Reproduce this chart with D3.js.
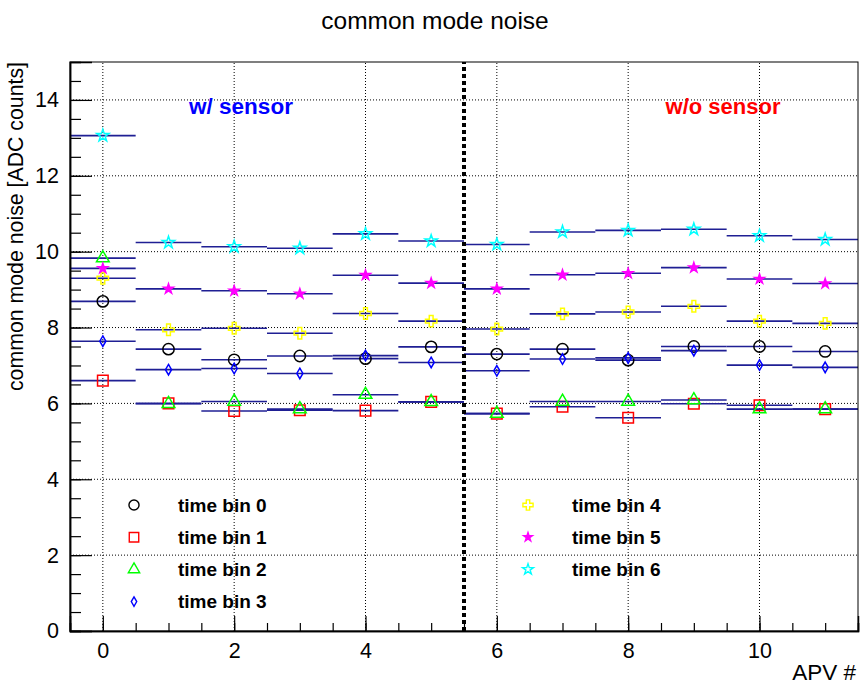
<!DOCTYPE html>
<html>
<head>
<meta charset="utf-8">
<script src="https://cdn.jsdelivr.net/npm/d3@7"></script>
<style>
    body { margin: 0; background: #fff; }
    text { font-family: "Liberation Sans", Arial, Helvetica, sans-serif; }
</style>
</head>
<body>
<svg id="chart" width="866" height="685"></svg>
<script>
// values, one array per time bin (index = APV #)
const apv = [0, 1, 2, 3, 4, 5, 6, 7, 8, 9, 10, 11]
const timeBins = ["time bin 0", "time bin 1", "time bin 2", "time bin 3", "time bin 4", "time bin 5", "time bin 6"]
const bin0 = [8.69, 7.43, 7.15, 7.25, 7.18, 7.49, 7.30, 7.43, 7.14, 7.50, 7.50, 7.37]
const bin1 = [6.60, 6.00, 5.80, 5.82, 5.81, 6.04, 5.73, 5.91, 5.62, 5.99, 5.95, 5.85]
const bin2 = [9.83, 5.99, 6.05, 5.85, 6.23, 6.04, 5.73, 6.05, 6.05, 6.09, 5.85, 5.85]
const bin3 = [7.64, 6.89, 6.92, 6.79, 7.26, 7.08, 6.86, 7.17, 7.20, 7.39, 7.01, 6.95]
const bin4 = [9.30, 7.94, 7.98, 7.85, 8.37, 8.17, 7.96, 8.36, 8.41, 8.56, 8.17, 8.11]
const bin5 = [9.56, 9.02, 8.97, 8.89, 9.38, 9.17, 9.02, 9.39, 9.43, 9.58, 9.28, 9.16]
const bin6 = [13.06, 10.24, 10.13, 10.09, 10.47, 10.28, 10.19, 10.52, 10.56, 10.59, 10.42, 10.32]
const xTicks = [0, 2, 4, 6, 8, 10]
const xMinorTicks = [-0.5, 0, 0.5, 1, 1.5, 2, 2.5, 3, 3.5, 4, 4.5, 5, 5.5, 6, 6.5, 7, 7.5, 8, 8.5, 9, 9.5, 10, 10.5, 11, 11.5]
const yTicks = [0, 2, 4, 6, 8, 10, 12, 14]
const yMinorTicks = [0, 0.5, 1, 1.5, 2, 2.5, 3, 3.5, 4, 4.5, 5, 5.5, 6, 6.5, 7, 7.5, 8, 8.5, 9, 9.5, 10, 10.5, 11, 11.5, 12, 12.5, 13, 13.5, 14, 14.5]
const regionSplit = 5.5
const regionLabels = ["w/ sensor", "w/o sensor"]

// styles
const markerColors = ["#000000", "#ff0000", "#00ff00", "#0000ff", "#ffff00", "#ff00ff", "#00ffff"]
const markerShapes = [d3.symbolCircle, d3.symbolSquare, d3.symbolTriangle, d3.symbolDiamond, d3.symbolCross, d3.symbolStar, d3.symbolStar]
const markerSizes = [100, 112, 70, 32, 72, 30, 46]
const markerFilled = [false, false, false, false, false, true, false]
const HIST_LINE = "#1f1f94"

const width = 866,
    height = 685,
    margin = {top: 62, right: 8, bottom: 54, left: 70}

const series = timeBins.map((name, i) => ({
    name: name,
    values: [bin0, bin1, bin2, bin3, bin4, bin5, bin6][i],
    color: markerColors[i],
    shape: markerShapes[i],
    size: markerSizes[i],
    filled: markerFilled[i]
}))

const svg = d3.select("#chart")

const x = d3.scaleLinear().domain([-0.5, 11.5]).range([margin.left, width - margin.right])
const y = d3.scaleLinear().domain([0, 15]).range([height - margin.bottom, margin.top])

// grid
let grid = svg.append("g")
grid.selectAll("line.vgrid")
    .data(xTicks)
    .join("line")
    .attr("x1", d => x(d)).attr("x2", d => x(d))
    .attr("y1", y(0)).attr("y2", y(15))
    .style("stroke", "#000")
    .style("stroke-width", 1)
    .style("stroke-dasharray", "1,2")
grid.selectAll("line.hgrid")
    .data(yTicks.filter(d => d > 0))
    .join("line")
    .attr("x1", x(-0.5)).attr("x2", x(11.5))
    .attr("y1", d => y(d)).attr("y2", d => y(d))
    .style("stroke", "#000")
    .style("stroke-width", 1)
    .style("stroke-dasharray", "1,2")

// histograms: bin line + marker
let hist = svg.append("g")
series.forEach(s => {
    let g = hist.append("g")
    g.selectAll("line")
        .data(s.values)
        .join("line")
        .attr("x1", (d, i) => x(apv[i] - 0.5))
        .attr("x2", (d, i) => x(apv[i] + 0.5))
        .attr("y1", d => y(d))
        .attr("y2", d => y(d))
        .style("stroke", HIST_LINE)
        .style("stroke-width", 1.6)
    g.selectAll("path")
        .data(s.values)
        .join("path")
        .attr("d", d3.symbol().type(s.shape).size(s.size))
        .attr("transform", (d, i) => `translate(${x(apv[i])}, ${y(d)})`)
        .style("fill", s.filled ? s.color : "none")
        .style("stroke", s.color)
        .style("stroke-width", 1.5)
})

// split line
svg.append("line")
    .attr("x1", x(regionSplit)).attr("x2", x(regionSplit))
    .attr("y1", y(0)).attr("y2", y(15))
    .style("stroke", "#000")
    .style("stroke-width", 4)
    .style("stroke-dasharray", "4,3")

// region labels
svg.append("text")
    .text(regionLabels[0])
    .attr("x", 241)
    .attr("y", 114)
    .attr("text-anchor", "middle")
    .style("font-size", "22.5px")
    .style("font-weight", "bold")
    .style("fill", "#0000ff")
svg.append("text")
    .text(regionLabels[1])
    .attr("x", 723)
    .attr("y", 114)
    .attr("text-anchor", "middle")
    .style("font-size", "22px")
    .style("font-weight", "bold")
    .style("fill", "#ff0000")

// frame
svg.append("rect")
    .attr("x", x(-0.5)).attr("y", y(15))
    .attr("width", x(11.5) - x(-0.5))
    .attr("height", y(0) - y(15))
    .style("fill", "none")
    .style("stroke", "#000")
    .style("stroke-width", 1)

// axes
let yAxis = svg.append("g").attr("transform", `translate(${x(-0.5)}, 0)`)
yAxis.call(d3.axisLeft(y).tickValues(yMinorTicks).tickSize(-11).tickFormat(""))
yAxis.append("g").call(d3.axisLeft(y).tickValues(yTicks).tickSize(-22).tickPadding(11))
yAxis.selectAll(".domain").style("stroke-width", 1.5)
yAxis.selectAll(".tick line").style("stroke-width", 1.2)

let xAxis = svg.append("g").attr("transform", `translate(0, ${y(0)})`)
xAxis.call(d3.axisBottom(x).tickValues(xMinorTicks).tickSize(-8).tickFormat(""))
xAxis.append("g").call(d3.axisBottom(x).tickValues(xTicks).tickSize(-15).tickPadding(12))
xAxis.selectAll(".domain").style("stroke-width", 1.5)
xAxis.selectAll(".tick line").style("stroke-width", 1.2)

svg.selectAll("g.tick text")
    .style("font-size", "21.5px")
    .style("font-family", "'Liberation Sans', Arial, sans-serif")
    .style("fill", "#000")

// titles
svg.append("text")
    .text("common mode noise")
    .attr("x", 435)
    .attr("y", 29)
    .attr("text-anchor", "middle")
    .style("font-size", "24.5px")

svg.append("text")
    .text("common mode noise [ADC counts]")
    .attr("transform", `translate(23, ${margin.top}) rotate(-90)`)
    .attr("text-anchor", "end")
    .style("font-size", "21.3px")

svg.append("text")
    .text("APV #")
    .attr("x", 856)
    .attr("y", 680)
    .attr("text-anchor", "end")
    .style("font-size", "22.5px")

// legend, two columns
let legend = svg.append("g")
let rows = legend.selectAll("g")
    .data(series)
    .join("g")
    .attr("transform", (d, i) => `translate(${i < 4 ? 134 : 528}, ${505 + (i % 4) * 32.2})`)
rows.append("path")
    .attr("d", d => d3.symbol().type(d.shape).size(d.size * 0.8)())
    .style("fill", d => d.filled ? d.color : "none")
    .style("stroke", d => d.color)
    .style("stroke-width", 1.4)
rows.append("text")
    .text(d => d.name)
    .attr("x", 44)
    .attr("y", 6.7)
    .style("font-size", "19px")
    .style("font-weight", "bold")
</script>
</body>
</html>
